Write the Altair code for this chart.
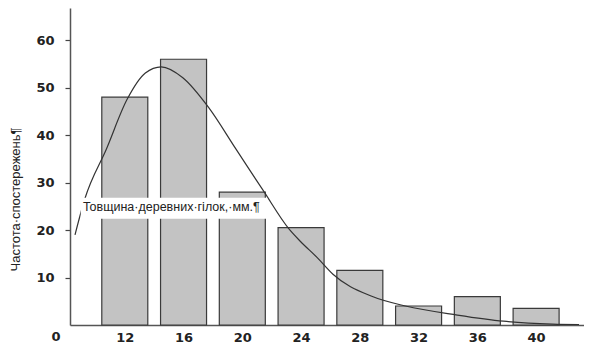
import altair as alt
import pandas as pd

# Histogram data (class centres, mm) and observed frequencies
centres = [12, 16, 20, 24, 28, 32, 36, 40]
freqs = [48, 56, 28, 20.5, 11.5, 4, 6, 3.5]

# Fitted curve
curve_x = [8.61, 9.28, 10.75, 12.15, 13.40, 14.48, 15.95, 17.69, 19.56, 21.43,
           23.16, 23.96, 25.10, 26.17, 28.77, 31.11, 34.64, 37.78, 41.12, 42.92]
curve_y = [19.0, 26.6, 37.1, 47.5, 53.1, 54.4, 52.1, 45.9, 37.1, 28.3,
           20.3, 17.6, 14.2, 10.7, 6.1, 4.0, 2.1, 0.8, 0.2, 0.1]

x_ticks = [12, 16, 20, 24, 28, 32, 36, 40]
y_ticks = [10, 20, 30, 40, 50, 60]

x_domain = [8.61, 42.92]
y_domain = [0, 66.8]

label_text = "Товщина·деревних·гілок,·мм.¶"
y_title = "Частота·спостережень¶"
label_box = {"x": 9.0, "x2": 21.7, "y": 22.4, "y2": 26.8}
label_pos = {"x": 9.15, "y": 24.8}

bars_df = pd.DataFrame({"x": centres, "f": freqs})
curve_df = pd.DataFrame({"x": curve_x, "y": curve_y})

xs = alt.Scale(domain=x_domain, nice=False, zero=False)
ys = alt.Scale(domain=y_domain, nice=False, zero=False)

x_axis = alt.Axis(values=x_ticks, ticks=False, tickSize=0, grid=False,
                  labelFont="DejaVu Sans", labelFontWeight="bold", labelFontSize=13,
                  labelColor="#222222", labelPadding=6, domainColor="#555555",
                  domainWidth=1.5, title=None)
y_axis = alt.Axis(values=y_ticks, tickSize=5, tickColor="#444444", tickWidth=1.2,
                  grid=False, labelFont="DejaVu Sans", labelFontWeight="bold",
                  labelFontSize=13, labelColor="#222222", labelPadding=11,
                  domainColor="#555555", domainWidth=1.5,
                  title=y_title, titleFont="Liberation Sans", titleFontWeight="normal",
                  titleFontSize=13, titleColor="#222222", titleAngle=-90,
                  titleX=-55, titleY=191, titleAlign="center", titleBaseline="middle")

bars = alt.Chart(bars_df).mark_bar(size=46, fill="#c3c3c3", stroke="#3a3a3a",
                                   strokeWidth=1.2).encode(
    x=alt.X("x:Q", scale=xs, axis=x_axis),
    y=alt.Y("f:Q", scale=ys, axis=y_axis),
)

curve = alt.Chart(curve_df).mark_line(color="#333333", strokeWidth=1.2,
                                      interpolate="monotone").encode(
    x=alt.X("x:Q", scale=xs),
    y=alt.Y("y:Q", scale=ys),
)

box = alt.Chart(pd.DataFrame([label_box])).mark_rect(fill="white").encode(
    x=alt.X("x:Q", scale=xs), x2="x2:Q",
    y=alt.Y("y:Q", scale=ys), y2="y2:Q",
)

label = alt.Chart(pd.DataFrame([{**label_pos, "t": label_text}])).mark_text(
    align="left", baseline="middle", font="Liberation Sans", fontSize=12.5,
    color="#222222").encode(
    x=alt.X("x:Q", scale=xs), y=alt.Y("y:Q", scale=ys), text="t:N"
)

zero = alt.Chart(pd.DataFrame([{"x": x_domain[0], "y": 0, "t": "0"}])).mark_text(
    align="center", baseline="middle", dx=-19, dy=12, font="DejaVu Sans",
    fontWeight="bold", fontSize=13, color="#222222").encode(
    x=alt.X("x:Q", scale=xs), y=alt.Y("y:Q", scale=ys), text="t:N"
)

chart = alt.layer(bars, curve, box, label, zero).properties(
    width=514, height=317,
    autosize=alt.AutoSizeParams(type="none"),
    padding={"left": 62, "top": 0, "right": 0, "bottom": 19},
).configure_view(strokeWidth=0)

chart.save("out.html", embed_options={"renderer": "svg", "actions": False})
